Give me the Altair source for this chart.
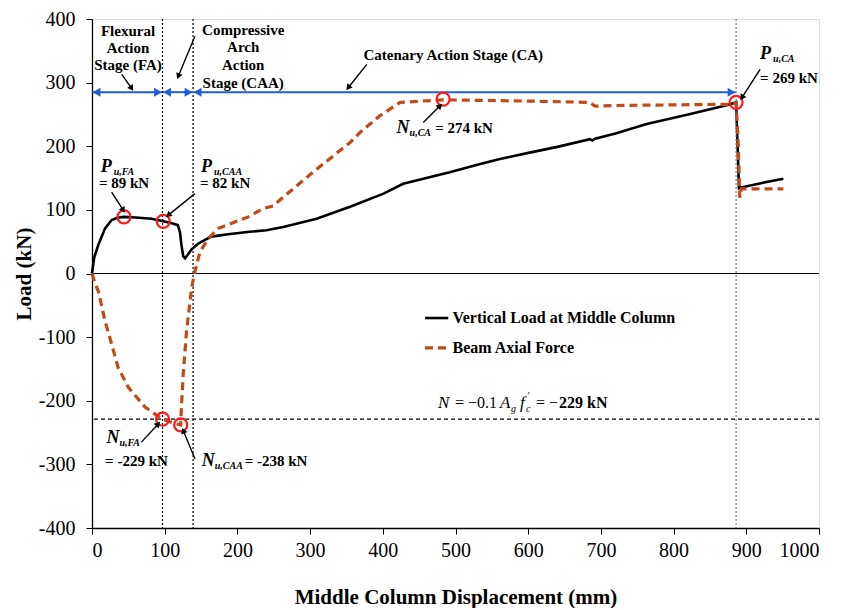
import math
import altair as alt
import pandas as pd

# ---------------- data ----------------
disp_v = [0, 3, 8.7, 18, 27, 35, 44, 60, 82, 98, 110, 118, 121, 123, 125.5, 128, 132, 137, 145, 151,
          164, 190, 217, 240, 263, 309, 355, 401, 428, 492, 534, 561, 602, 640, 685, 688, 692, 720,
          763, 820, 873, 886, 888, 890, 893, 920, 951]
load_v = [0, 25, 45, 71, 84, 87.5, 89, 88, 86, 82, 79, 76, 65, 45, 27, 24, 30, 38, 46, 50,
          58, 62, 65.6, 68, 73, 86, 105, 125.5, 141, 159, 172, 180, 190, 199, 211, 209, 212, 220,
          235, 250, 264.5, 269, 200, 134, 135, 142, 149]

disp_a = [0, 4, 8.7, 18, 27, 36, 50, 73, 97, 114, 122, 123, 125.5, 130, 137, 141.5, 148.5, 160, 174,
          192, 215, 235, 249, 263, 309, 355, 369, 396, 424, 483, 600, 685, 692, 717, 800, 880, 886,
          889, 891, 893, 951]
force_a = [0, -15, -28, -75, -111, -148, -179, -210, -229, -236, -238, -210, -158, -91, -23, 3, 34, 55, 71,
           79, 89, 102, 106, 120, 164, 206, 222, 248, 269, 273, 271, 269, 263, 264, 265, 266, 268,
           200, 119, 133, 133]

x_ticks = list(range(0, 1001, 100))
y_ticks = list(range(-400, 401, 100))

mark_x = [44, 98, 97, 122, 483, 886]
mark_y = [89, 82, -229, -238, 274, 269]

stage_text = ["Flexural", "Action", "Stage (FA)", "Compressive", "Arch", "Action", "Stage (CAA)",
              "Catenary Action Stage (CA)"]
stage_x = [49.5, 49.5, 49.5, 208, 208, 208, 208, 497]
stage_y = [381, 354, 328, 383, 356, 328, 300, 344]

sym_text = ["P", "P", "N", "N", "N", "P"]
sym_sub = ["u,FA", "u,CAA", "u,FA", "u,CAA", "u,CA", "u,CA"]
sym_x = [12, 150, 20, 151, 419, 919]
sym_y = [168, 168, -258, -295, 229, 345]
val_text = ["= 89 kN", "= 82 kN", "= -229 kN", "= -238 kN", "= 274 kN", "= 269 kN"]
val_x = [9.6, 148.6, 18, 210, 472, 919]
val_y = [142, 142, -294, -295, 228, 308]

# annotation pointer arrows (start -> end)
ann_x1 = [41, 141.6, 378, 27, 141.6, 68, 141.6, 455.7, 919]
ann_y1 = [313, 373, 328.6, 128, 125.5, -265, -291, 237.5, 321]
ann_x2 = [54.5, 118.7, 352.4, 43, 105, 91, 125.6, 478.7, 894]
ann_y2 = [291, 310, 292, 99.5, 91.7, -236.5, -247, 263.6, 276.6]

stage_bounds = [0, 97, 139, 886]
stage_arrow_y = 285
vlines_dark = [97, 139]
vlines_light = [886]
n_limit = -229

legend_labels = ["Vertical Load at Middle Column", "Beam Axial Force"]
legend_y = [-70, -117]
legend_x1, legend_x2, legend_tx = 458, 490, 496

formula_x, formula_y = 476, -203

# ---------------- styling ----------------
W, H = 727, 509
SERIF = "Liberation Serif"
BLACK = "#000000"
ORANGE = "#c24a17"
BLUE = "#1f5fd6"
RED = "#ff1a1a"

xs = alt.Scale(domain=[0, 1000], nice=False, zero=False)
ys = alt.Scale(domain=[-400, 400], nice=False, zero=False)

x_axis = alt.Axis(values=x_ticks, title="Middle Column Displacement (mm)", grid=False,
                  labelFont=SERIF, labelFontSize=20, labelColor=BLACK, labelPadding=6,
                  titleFont=SERIF, titleFontSize=21, titleFontWeight="bold", titleColor=BLACK,
                  titlePadding=26, tickSize=6, tickColor=BLACK, domainColor=BLACK, domainWidth=1.3,
                  labelExpr="'' + datum.value")
y_axis = alt.Axis(values=y_ticks, title="Load (kN)", grid=False,
                  labelFont=SERIF, labelFontSize=20, labelColor=BLACK, labelPadding=11,
                  titleFont=SERIF, titleFontSize=21, titleFontWeight="bold", titleColor=BLACK,
                  titlePadding=4, tickSize=6, tickColor=BLACK, domainColor=BLACK, domainWidth=1.3,
                  labelExpr="'' + datum.value")


def X(f):
    return alt.X(f, type="quantitative", scale=xs, axis=x_axis)


def Y(f):
    return alt.Y(f, type="quantitative", scale=ys, axis=y_axis)


df_v = pd.DataFrame({"x": disp_v, "y": load_v, "o": range(len(disp_v))})
df_a = pd.DataFrame({"x": disp_a, "y": force_a, "o": range(len(disp_a))})

line_v = alt.Chart(df_v).mark_line(color=BLACK, strokeWidth=2.6).encode(
    x=X("x"), y=Y("y"), order="o:Q")
line_a = alt.Chart(df_a).mark_line(color=ORANGE, strokeWidth=3.2, strokeDash=[8, 5]).encode(
    x=X("x"), y=Y("y"), order="o:Q")

# reference lines
zero_rule = alt.Chart(pd.DataFrame({"y": [0]})).mark_rule(color=BLACK, strokeWidth=1.2).encode(y=Y("y"))
lim_rule = alt.Chart(pd.DataFrame({"y": [n_limit]})).mark_rule(
    color=BLACK, strokeWidth=1.3, strokeDash=[4, 3]).encode(y=Y("y"))
vdark = alt.Chart(pd.DataFrame({"x": vlines_dark})).mark_rule(
    color=BLACK, strokeWidth=1.2, strokeDash=[2, 2]).encode(x=X("x"))
vlight = alt.Chart(pd.DataFrame({"x": vlines_light})).mark_rule(
    color="#777777", strokeWidth=1.1, strokeDash=[2, 2]).encode(x=X("x"))

# blue stage arrows
seg = pd.DataFrame({"x1": [b + 0.8 for b in stage_bounds[:-1]],
                    "x2": [b - 0.8 for b in stage_bounds[1:]],
                    "y": [stage_arrow_y] * 3})
blue_lines = alt.Chart(seg).mark_rule(color=BLUE, strokeWidth=2).encode(
    x=X("x1"), x2="x2", y=Y("y"))
blue_left = alt.Chart(seg).mark_point(shape="triangle-left", filled=True, color=BLUE, size=80,
                                      opacity=1, xOffset=4).encode(x=X("x1"), y=Y("y"))
blue_right = alt.Chart(seg).mark_point(shape="triangle-right", filled=True, color=BLUE, size=80,
                                       opacity=1, xOffset=-4).encode(x=X("x2"), y=Y("y"))

# red circles
circles = alt.Chart(pd.DataFrame({"x": mark_x, "y": mark_y})).mark_point(
    shape="circle", filled=False, color=RED, size=170, strokeWidth=2.2, opacity=1).encode(
    x=X("x"), y=Y("y"))

# pointer arrows
pxmm = W / 1000.0
pxkn = H / 800.0
angles = []
for a, b, c, d in zip(ann_x1, ann_y1, ann_x2, ann_y2):
    dxp = (c - a) * pxmm
    dyp = -(d - b) * pxkn
    angles.append(math.degrees(math.atan2(dxp, -dyp)) % 360)
ann = pd.DataFrame({"x1": ann_x1, "y1": ann_y1, "x2": ann_x2, "y2": ann_y2, "ang": angles})
ann_lines = alt.Chart(ann).mark_rule(color=BLACK, strokeWidth=1.4).encode(
    x=X("x1"), y=Y("y1"), x2="x2", y2="y2")
ann_heads = alt.Chart(ann).mark_point(shape="triangle-up", filled=True, color=BLACK, size=45,
                                      opacity=1).encode(
    x=X("x2"), y=Y("y2"), angle=alt.Angle("ang:Q", scale=None))


def txt(xv, yv, tv, **props):
    d = pd.DataFrame({"x": xv, "y": yv, "t": tv})
    base = dict(font=SERIF, color=BLACK, baseline="middle")
    base.update(props)
    return alt.Chart(d).mark_text(**base).encode(x=X("x"), y=Y("y"), text="t:N")


stage_lbl = txt(stage_x, stage_y, stage_text, fontSize=15, fontWeight="bold", align="center")
sym_lbl = txt(sym_x, sym_y, sym_text, fontSize=18, fontStyle="italic", fontWeight="bold", align="left")
sub_lbl = txt(sym_x, sym_y, sym_sub, fontSize=10, fontStyle="italic", fontWeight="bold", align="left",
              dx=13, dy=5)
val_lbl = txt(val_x, val_y, val_text, fontSize=15, fontWeight="bold", align="left")

# formula N = -0.1 Ag f'c = -229 kN
f1 = txt([formula_x], [formula_y], ["N"], fontSize=17, fontStyle="italic", align="left")
f2 = txt([formula_x], [formula_y], ["= \u22120.1"], fontSize=16, align="left", dx=17)
f3 = txt([formula_x], [formula_y], ["A"], fontSize=17, fontStyle="italic", align="left", dx=62)
f4 = txt([formula_x], [formula_y], ["g"], fontSize=10, fontStyle="italic", align="left", dx=73, dy=6)
f5 = txt([formula_x], [formula_y], ["f"], fontSize=17, fontStyle="italic", align="left", dx=82)
f6 = txt([formula_x], [formula_y], ["c"], fontSize=10, fontStyle="italic", align="left", dx=88, dy=6)
f7 = txt([formula_x], [formula_y], ["'"], fontSize=10, fontStyle="italic", align="left", dx=89, dy=-7)
f8 = txt([formula_x], [formula_y], ["= \u2212"], fontSize=16, align="left", dx=98)
f9 = txt([formula_x], [formula_y], ["229 kN"], fontSize=16, fontWeight="bold", align="left", dx=121)

# legend
leg_df = pd.DataFrame({"x1": [legend_x1] * 2, "x2": [legend_x2] * 2, "y": legend_y})
leg_v = alt.Chart(leg_df.iloc[[0]]).mark_rule(color=BLACK, strokeWidth=2.6).encode(
    x=X("x1"), x2="x2", y=Y("y"))
leg_a = alt.Chart(leg_df.iloc[[1]]).mark_rule(color=ORANGE, strokeWidth=3.2, strokeDash=[8, 5]).encode(
    x=X("x1"), x2="x2", y=Y("y"))
leg_t = txt([legend_tx] * 2, legend_y, legend_labels, fontSize=16, fontWeight="bold", align="left")

chart = alt.layer(
    line_v, zero_rule, lim_rule, vdark, vlight, blue_lines, blue_left, blue_right,
    line_a, circles, ann_lines, ann_heads, stage_lbl, sym_lbl, sub_lbl, val_lbl,
    f1, f2, f3, f4, f5, f6, f7, f8, f9, leg_v, leg_a, leg_t
).properties(
    width=W, height=H,
    autosize=alt.AutoSizeParams(type="none"),
    padding={"left": 84, "top": 11, "right": 12, "bottom": 80},
).configure_view(stroke="#555555", strokeWidth=1.3).configure_axis(
    labelFont=SERIF, titleFont=SERIF, labelFontSize=20, labelColor=BLACK
).configure(background="white")

chart.save("out.html", embed_options={"renderer": "svg", "actions": False})
